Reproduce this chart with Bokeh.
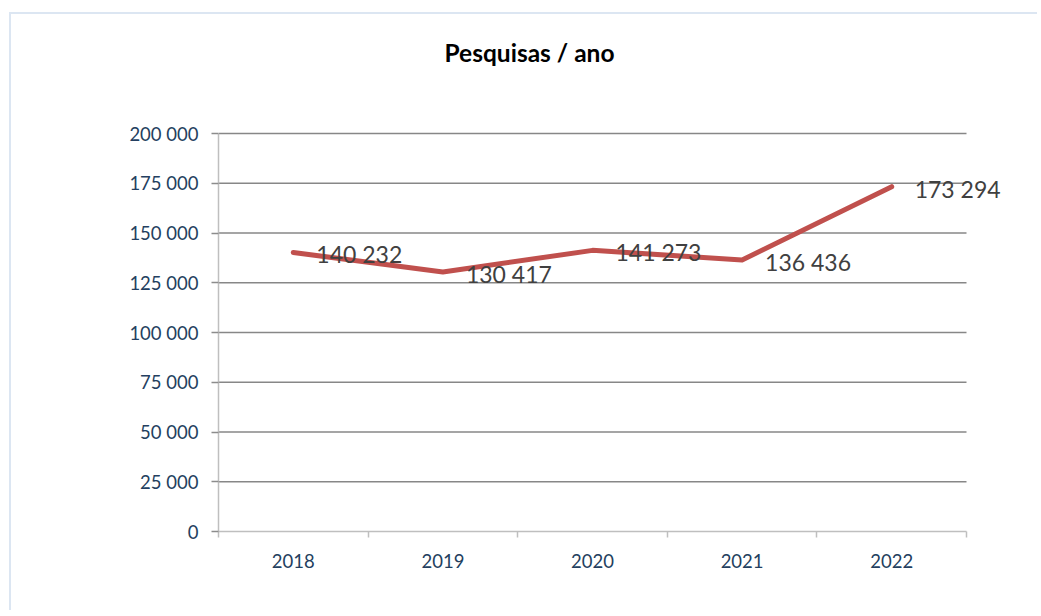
from bokeh.plotting import figure
from bokeh.models import (Range1d, FixedTicker, ColumnDataSource, LabelSet, Label)
from bokeh.core.properties import value
from bokeh.embed import file_html
from bokeh.resources import INLINE

# ---- data ----
years = ["2018", "2019", "2020", "2021", "2022"]
searches = [140232, 130417, 141273, 136436, 173294]
y_ticks = [0, 25000, 50000, 75000, 100000, 125000, 150000, 175000, 200000]
title_text = "Pesquisas / ano"


def fmt(v):
    return f"{v:,}".replace(",", " ")


n = len(years)
xs = [i + 0.5 for i in range(n)]
y_max = y_ticks[-1]

# layout (pixels)
W, H = 1028, 598
LEFT, BOTTOM = 207, 81
PLOT_W, PLOT_H = 748, 398          # size of the chart's plot area
frame_w, frame_h = W - LEFT, H - BOTTOM
x_end = n * frame_w / PLOT_W
y_end = y_max * frame_h / PLOT_H

p = figure(width=W, height=H, output_backend="svg", toolbar_location=None,
           x_range=Range1d(0, x_end), y_range=Range1d(0, y_end),
           min_border_left=LEFT, min_border_right=0, min_border_top=0,
           min_border_bottom=BOTTOM)
p.styles = {"border-left": "2px solid #dce6f2", "border-top": "2px solid #dce6f2",
            "margin-left": "9px", "margin-top": "12px"}
p.outline_line_color = None
p.background_fill_color = "white"
p.border_fill_color = "white"
p.xgrid.visible = False
p.ygrid.visible = False

FONT = "Lato"
LABEL_COLOR = "#243f60"

# grid lines, limited to the plot area
p.segment(x0=[0] * (len(y_ticks) - 1), x1=[n] * (len(y_ticks) - 1),
          y0=y_ticks[1:], y1=y_ticks[1:], line_color="#878787", line_width=1.3)

# x axis: labels at category centres, tick marks at boundaries
p.xaxis.bounds = (0, n)
p.xaxis.ticker = FixedTicker(ticks=xs, minor_ticks=list(range(n + 1)))
p.xaxis.major_label_overrides = {x: y for x, y in zip(xs, years)}
p.xaxis.major_tick_out = 0
p.xaxis.major_tick_in = 0
p.xaxis.minor_tick_out = 6
p.xaxis.minor_tick_in = 0
p.xaxis.minor_tick_line_color = "#bfbfbf"
p.xaxis.minor_tick_line_width = 1.5
p.xaxis.axis_line_color = "#bfbfbf"
p.xaxis.axis_line_width = 1.5
p.xaxis.major_label_standoff = 16
p.xaxis.major_label_text_font = FONT
p.xaxis.major_label_text_font_size = "18.5px"
p.xaxis.major_label_text_color = LABEL_COLOR

# y axis
p.yaxis.bounds = (0, y_max)
p.yaxis.ticker = FixedTicker(ticks=y_ticks, minor_ticks=[])
p.yaxis.major_label_overrides = {v: fmt(v) for v in y_ticks}
p.yaxis.major_tick_out = 7
p.yaxis.major_tick_in = 0
p.yaxis.major_tick_line_color = "#8c8c8c"
p.yaxis.major_tick_line_width = 1.3
p.yaxis.minor_tick_line_color = None
p.yaxis.axis_line_color = "#bfbfbf"
p.yaxis.axis_line_width = 1.5
p.yaxis.major_label_standoff = 13
p.yaxis.major_label_text_font = FONT
p.yaxis.major_label_text_font_size = "18.5px"
p.yaxis.major_label_text_color = LABEL_COLOR

src = ColumnDataSource(dict(x=xs, y=searches, lab=[fmt(v) for v in searches]))
p.line("x", "y", source=src, line_color="#c0504d", line_width=5, line_cap="round",
       line_join="round")

labels = LabelSet(x="x", y="y", text="lab", source=src, x_offset=23, y_offset=-2,
                  text_baseline="middle", text_align="left",
                  text_font=value(FONT), text_font_size=value("23px"),
                  text_color=value("#404040"))
p.add_layout(labels)

title = Label(x=(529 - 218) / PLOT_W * n, y=(531 - 52) / PLOT_H * y_max, text=title_text,
              text_align="center", text_baseline="middle", text_font=FONT,
              text_font_style="bold", text_font_size="24.5px", text_color="#000000")
p.add_layout(title)

open("out.html", "w").write(file_html(p, INLINE))
